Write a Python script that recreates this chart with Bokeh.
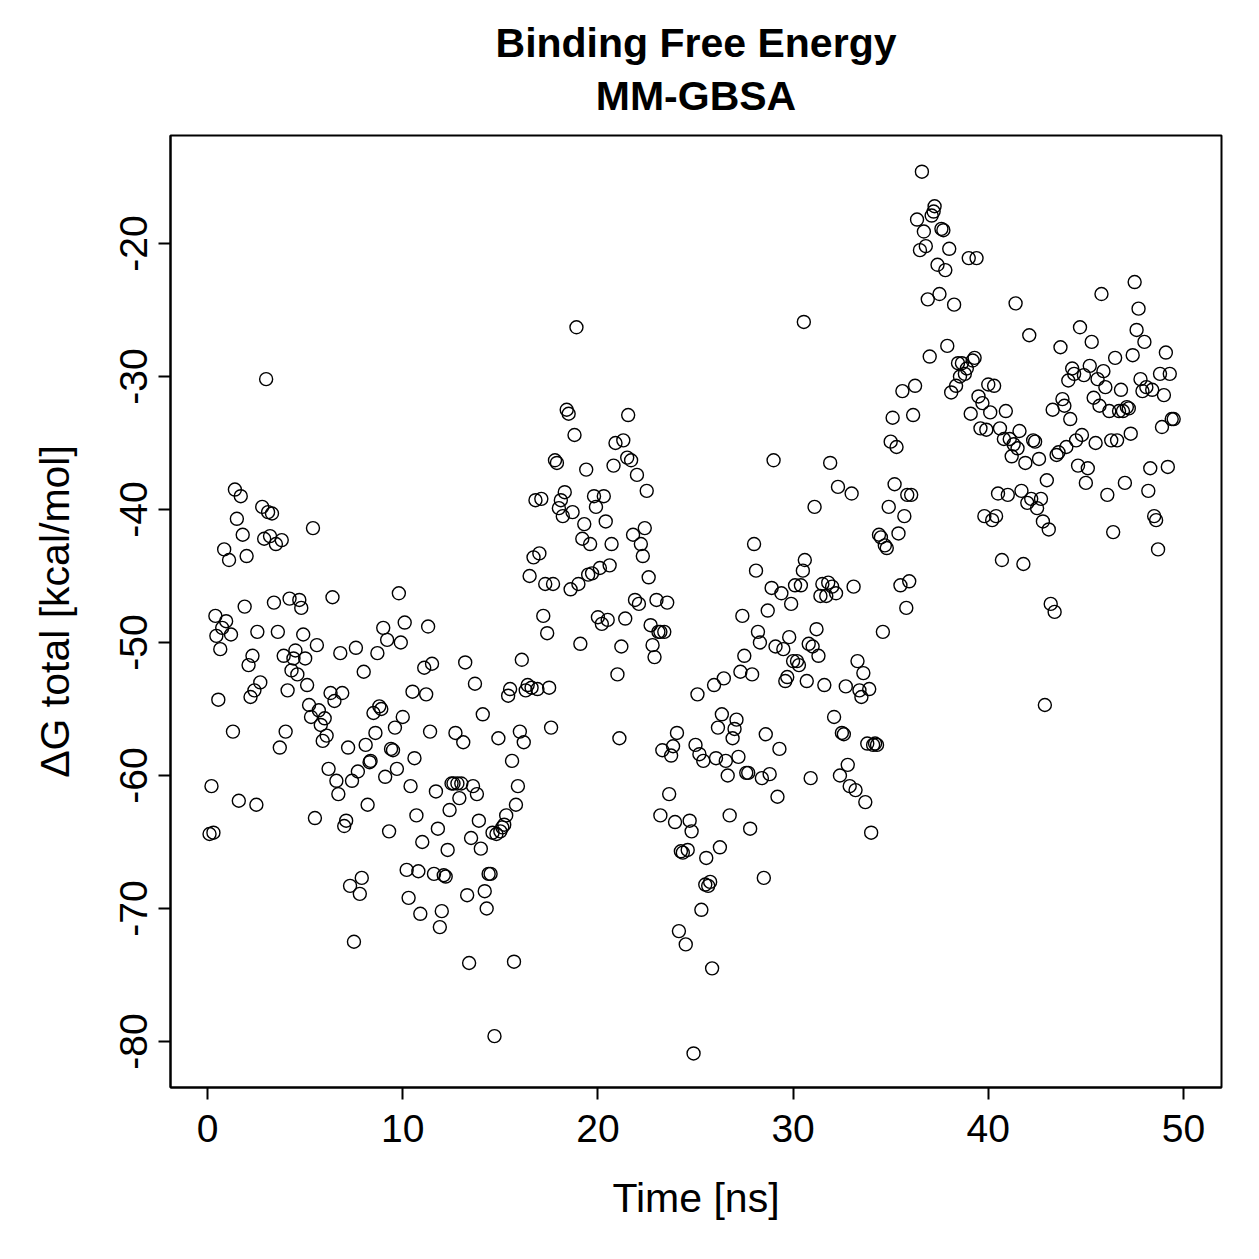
from bokeh.plotting import figure
from bokeh.models import FixedTicker, Title, ColumnDataSource
from bokeh.embed import file_html
from bokeh.resources import INLINE

# ---- data (Time [ns], dG total [kcal/mol]) ----
t_a = [0.1,0.3,0.2,0.4,0.45,0.55,0.65,0.75,0.85,0.95,1.1,1.2,1.3,1.4,1.5,1.6,1.7,1.8,1.9,2.0,2.1,2.2,2.3,2.4,2.5,2.55,2.7,2.8,2.9,3.0,3.1,3.2,3.3,3.4,3.5,3.6,3.7,3.8,3.9,4.0,4.1,4.2,4.3,4.4,4.5,4.6,4.7,4.8,4.9]
g_a = [-64.4,-64.3,-60.8,-48.0,-49.5,-54.3,-50.5,-48.9,-43.0,-48.4,-43.8,-49.4,-56.7,-38.5,-40.7,-61.9,-39.0,-41.9,-47.3,-43.5,-51.7,-54.1,-51.0,-53.6,-62.2,-49.2,-53.0,-39.8,-42.2,-30.2,-40.2,-42.0,-40.3,-47.0,-42.6,-49.2,-57.9,-42.3,-51.0,-56.7,-53.6,-46.7,-52.1,-51.2,-50.6,-52.4,-46.8,-47.4,-49.4]

t_b = [5.0,5.1,5.2,5.3,5.4,5.5,5.6,5.7,5.8,5.9,6.0,6.1,6.2,6.3,6.4,6.5,6.6,6.7,6.8,6.9,7.0,7.1,7.2,7.3,7.4,7.5,7.6,7.7,7.8,7.9,8.0,8.1,8.2,8.3,8.35,8.5,8.6,8.7,8.8,8.9,9.0,9.1,9.2,9.3,9.4,9.5,9.6,9.7,9.8,9.9]
g_b = [-51.2,-53.2,-54.7,-55.6,-41.4,-63.2,-50.2,-55.1,-56.2,-57.4,-55.7,-57.0,-59.5,-53.8,-46.6,-54.4,-60.4,-61.4,-50.8,-53.8,-63.8,-63.4,-57.9,-68.3,-60.4,-72.5,-50.4,-59.7,-68.9,-67.7,-52.2,-57.7,-62.2,-59.0,-58.9,-55.3,-56.8,-50.8,-54.8,-55.0,-48.9,-60.1,-49.8,-64.2,-58.0,-58.1,-56.4,-59.5,-46.3,-50.0]

t_c = [10.0,10.1,10.2,10.3,10.4,10.5,10.6,10.7,10.8,10.9,11.0,11.1,11.2,11.3,11.4,11.5,11.6,11.7,11.8,11.9,12.0,12.1,12.2,12.3,12.4,12.5,12.6,12.7,12.8,12.9,13.0,13.1,13.2,13.3,13.4,13.5,13.6,13.7,13.8,13.9,14.0,14.1,14.2,14.3,14.4,14.5,14.6,14.7,14.8,14.9]
g_c = [-55.6,-48.5,-67.1,-69.2,-60.8,-53.7,-58.7,-63.0,-67.2,-70.4,-65.0,-51.9,-53.9,-48.8,-56.7,-51.6,-67.4,-61.2,-64.0,-71.4,-70.2,-67.5,-67.6,-65.6,-62.6,-60.6,-60.6,-56.8,-60.6,-61.7,-60.6,-57.5,-51.5,-69.0,-74.1,-64.7,-60.8,-53.1,-61.4,-63.4,-65.5,-55.4,-68.7,-70.0,-67.4,-67.4,-64.3,-79.6,-64.4,-57.2]

t_d = [15.0,15.1,15.2,15.3,15.4,15.5,15.6,15.7,15.8,15.9,16.0,16.1,16.2,16.3,16.4,16.5,16.6,16.7,16.8,16.9,17.0,17.1,17.2,17.3,17.4,17.5,17.6,17.7,17.8,17.9,18.0,18.1,18.2,18.3,18.4,18.5,18.6,18.7,18.8,18.9,19.0,19.1,19.2,19.3,19.4,19.5,19.6,19.7,19.8,19.9]
g_d = [-64.2,-63.9,-63.7,-63.0,-54.0,-53.5,-58.9,-74.0,-62.2,-60.8,-56.7,-51.3,-57.5,-53.6,-53.2,-45.0,-53.4,-43.6,-39.3,-53.5,-43.3,-39.2,-48.0,-45.6,-49.3,-53.4,-56.4,-45.6,-36.3,-36.5,-39.9,-39.3,-40.5,-38.7,-32.5,-32.8,-46.0,-40.2,-34.4,-26.3,-45.6,-50.1,-42.2,-41.1,-37.0,-44.9,-42.6,-44.8,-39.0,-39.8]

t_e = [20.0,20.1,20.2,20.3,20.4,20.5,20.6,20.7,20.8,20.9,21.0,21.1,21.2,21.3,21.4,21.5,21.55,21.7,21.8,21.9,22.0,22.1,22.2,22.3,22.4,22.5,22.6,22.7,22.8,22.9,23.0,23.1,23.2,23.2,23.3,23.4,23.55,23.65,23.75,23.85,23.95,24.05,24.15,24.25,24.35,24.5,24.6,24.7,24.8,24.9]
g_e = [-48.1,-44.4,-48.6,-39.0,-40.9,-48.3,-44.2,-42.6,-36.7,-35.0,-52.4,-57.2,-50.3,-34.8,-48.2,-36.1,-32.9,-36.3,-41.9,-46.8,-37.4,-47.1,-42.6,-43.5,-41.4,-38.6,-45.1,-48.7,-50.2,-51.1,-46.8,-49.2,-49.2,-63.0,-58.1,-49.2,-47.0,-61.4,-58.5,-57.8,-63.5,-56.8,-71.7,-65.7,-65.8,-72.7,-65.6,-63.4,-64.2,-80.9]

t_f = [25.0,25.1,25.2,25.3,25.4,25.5,25.55,25.65,25.75,25.85,25.95,26.05,26.15,26.25,26.35,26.45,26.55,26.65,26.75,26.9,27.0,27.1,27.2,27.3,27.4,27.5,27.6,27.7,27.8,27.9,28.0,28.1,28.2,28.3,28.4,28.5,28.6,28.7,28.8,28.9,29.0,29.1,29.2,29.3,29.4,29.5,29.6,29.7,29.8,29.9]
g_f = [-57.7,-53.9,-58.4,-70.1,-58.9,-68.2,-66.2,-68.3,-68.0,-74.5,-53.2,-58.7,-56.4,-65.4,-55.4,-52.7,-58.9,-60.0,-63.0,-57.2,-56.5,-55.8,-58.6,-52.2,-48.0,-51.0,-59.8,-59.8,-64.0,-52.4,-42.6,-44.6,-49.2,-50.0,-60.2,-67.7,-56.9,-47.6,-59.9,-45.9,-36.3,-50.3,-61.6,-58.0,-46.3,-50.5,-52.9,-52.6,-49.6,-47.1]

t_g = [30.0,30.1,30.2,30.3,30.4,30.5,30.55,30.6,30.7,30.8,30.9,31.0,31.1,31.2,31.3,31.4,31.5,31.6,31.7,31.8,31.9,32.0,32.1,32.2,32.3,32.4,32.5,32.6,32.7,32.8,32.9,33.0,33.1,33.2,33.3,33.4,33.5,33.6,33.7,33.8,33.9,34.0,34.1,34.2,34.3,34.4,34.5,34.6,34.7,34.8,34.9]
g_g = [-51.4,-45.7,-51.4,-51.7,-45.7,-44.6,-25.9,-43.8,-52.9,-50.1,-60.2,-50.3,-39.8,-49.0,-51.0,-46.5,-45.6,-53.2,-46.5,-45.5,-36.5,-45.8,-55.6,-46.3,-38.3,-60.0,-56.8,-56.9,-53.3,-59.2,-60.8,-38.8,-45.8,-61.1,-51.4,-53.6,-54.1,-52.3,-62.0,-57.6,-53.5,-64.3,-57.7,-57.6,-57.7,-41.9,-42.1,-49.2,-42.7,-42.9,-39.8]

t_h = [35.0,35.1,35.2,35.3,35.4,35.5,35.6,35.7,35.8,35.85,35.95,36.05,36.15,36.25,36.35,36.5,36.6,36.7,36.8,36.9,37.0,37.1,37.2,37.25,37.4,37.5,37.6,37.7,37.8,37.9,38.0,38.1,38.25,38.35,38.45,38.55,38.65,38.8,38.9,39.0,39.1,39.2,39.3,39.4,39.5,39.6,39.7,39.8,39.9]
g_h = [-34.9,-33.1,-38.1,-35.3,-41.8,-45.7,-31.1,-40.5,-47.4,-38.9,-45.4,-38.9,-32.9,-30.7,-18.2,-20.5,-14.6,-19.1,-20.2,-24.2,-28.5,-17.9,-17.6,-17.2,-21.6,-23.8,-18.9,-19.0,-22.0,-27.7,-20.4,-31.2,-24.6,-30.7,-29.0,-30.0,-29.0,-29.8,-29.4,-21.1,-32.8,-28.8,-28.6,-21.1,-31.5,-33.9,-32.0,-40.5,-34.0]

t_i = [40.0,40.1,40.2,40.3,40.4,40.5,40.6,40.7,40.8,40.9,41.0,41.1,41.2,41.3,41.4,41.5,41.6,41.7,41.8,41.9,42.0,42.1,42.2,42.3,42.4,42.5,42.6,42.7,42.8,42.9,43.0,43.1,43.2,43.3,43.4,43.5,43.6,43.7,43.8,43.9,44.0,44.1,44.2,44.3,44.4,44.5,44.6,44.7,44.8,44.9]
g_i = [-30.6,-32.7,-40.8,-30.7,-40.5,-38.8,-33.9,-43.8,-34.7,-32.6,-38.9,-34.7,-36.0,-35.1,-24.5,-35.4,-34.1,-38.6,-44.1,-36.5,-39.5,-26.9,-39.2,-34.8,-34.9,-39.9,-36.2,-39.2,-40.9,-54.7,-37.8,-41.5,-47.1,-32.5,-47.7,-35.9,-35.7,-27.8,-31.7,-32.2,-35.3,-30.3,-33.2,-29.4,-29.8,-34.8,-36.7,-26.3,-34.4,-29.9]

t_j = [45.0,45.1,45.2,45.3,45.4,45.5,45.6,45.7,45.8,45.9,46.0,46.1,46.2,46.3,46.4,46.5,46.6,46.7,46.8,46.9,47.0,47.1,47.2,47.3,47.4,47.5,47.6,47.7,47.8,47.9,48.0,48.1,48.2,48.3,48.4,48.5,48.6,48.7,48.8,48.9,49.0,49.1,49.2,49.3,49.4,49.5]
g_j = [-38.0,-36.9,-29.2,-27.4,-31.6,-35.0,-30.2,-32.2,-23.8,-29.6,-30.8,-38.9,-32.6,-34.8,-41.7,-28.6,-34.8,-32.6,-31.0,-32.6,-38.0,-32.3,-32.4,-34.3,-28.4,-22.9,-26.5,-24.9,-30.2,-31.1,-27.4,-30.8,-38.6,-36.9,-31.0,-40.5,-40.8,-43.0,-29.8,-33.8,-31.4,-28.2,-36.8,-29.8,-33.2,-33.2]

time_ns = t_a + t_b + t_c + t_d + t_e + t_f + t_g + t_h + t_i + t_j
dg_total = g_a + g_b + g_c + g_d + g_e + g_f + g_g + g_h + g_i + g_j
n = min(len(time_ns), len(dg_total))
time_ns, dg_total = time_ns[:n], dg_total[:n]

x_ticks = [0, 10, 20, 30, 40, 50]
y_ticks = [-80, -70, -60, -50, -40, -30, -20]

title_line1 = "Binding Free Energy"
title_line2 = "MM-GBSA"
x_label = "Time [ns]"
y_label = "\u0394G total [kcal/mol]"

FONT = "Liberation Sans"

p = figure(width=1259, height=1259, output_backend="svg", toolbar_location=None,
           x_range=(-1.9, 51.95), y_range=(-83.46, -11.88),
           min_border_left=170, min_border_right=38, min_border_top=135, min_border_bottom=172,
           background_fill_color="white", border_fill_color="white")

p.outline_line_color = "black"
p.outline_line_width = 2
p.xgrid.visible = False
p.ygrid.visible = False

src = ColumnDataSource(data=dict(t=time_ns, g=dg_total))
p.scatter("t", "g", source=src, marker="circle", size=13, fill_color=None,
          line_color="black", line_width=1.4)

for ax in (p.xaxis[0], p.yaxis[0]):
    ax.axis_line_color = "black"
    ax.axis_line_width = 2
    ax.major_tick_line_color = "black"
    ax.major_tick_line_width = 2
    ax.major_tick_out = 12
    ax.major_tick_in = 0
    ax.minor_tick_line_color = None
    ax.major_label_text_font = FONT
    ax.major_label_text_font_size = "39px"
    ax.major_label_text_color = "black"
    ax.axis_label_text_font = FONT
    ax.axis_label_text_font_size = "41px"
    ax.axis_label_text_font_style = "normal"
    ax.axis_label_text_color = "black"

p.xaxis[0].ticker = FixedTicker(ticks=x_ticks)
p.yaxis[0].ticker = FixedTicker(ticks=y_ticks)
p.xaxis[0].major_label_overrides = {v: str(v) for v in x_ticks}
p.yaxis[0].major_label_overrides = {v: str(v) for v in y_ticks}
p.xaxis[0].axis_label = x_label
p.yaxis[0].axis_label = y_label
p.xaxis[0].major_label_standoff = 15
p.yaxis[0].major_label_standoff = 11
p.yaxis[0].major_label_orientation = "vertical"
p.xaxis[0].axis_label_standoff = 30
p.yaxis[0].axis_label_standoff = 40

p.add_layout(Title(text=title_line2, align="center", text_font=FONT, text_font_size="41px",
                   text_font_style="bold", text_color="black", standoff=33), "above")
p.add_layout(Title(text=title_line1, align="center", text_font=FONT, text_font_size="41px",
                   text_font_style="bold", text_color="black", standoff=-23), "above")

open("out.html", "w").write(file_html(p, INLINE))
